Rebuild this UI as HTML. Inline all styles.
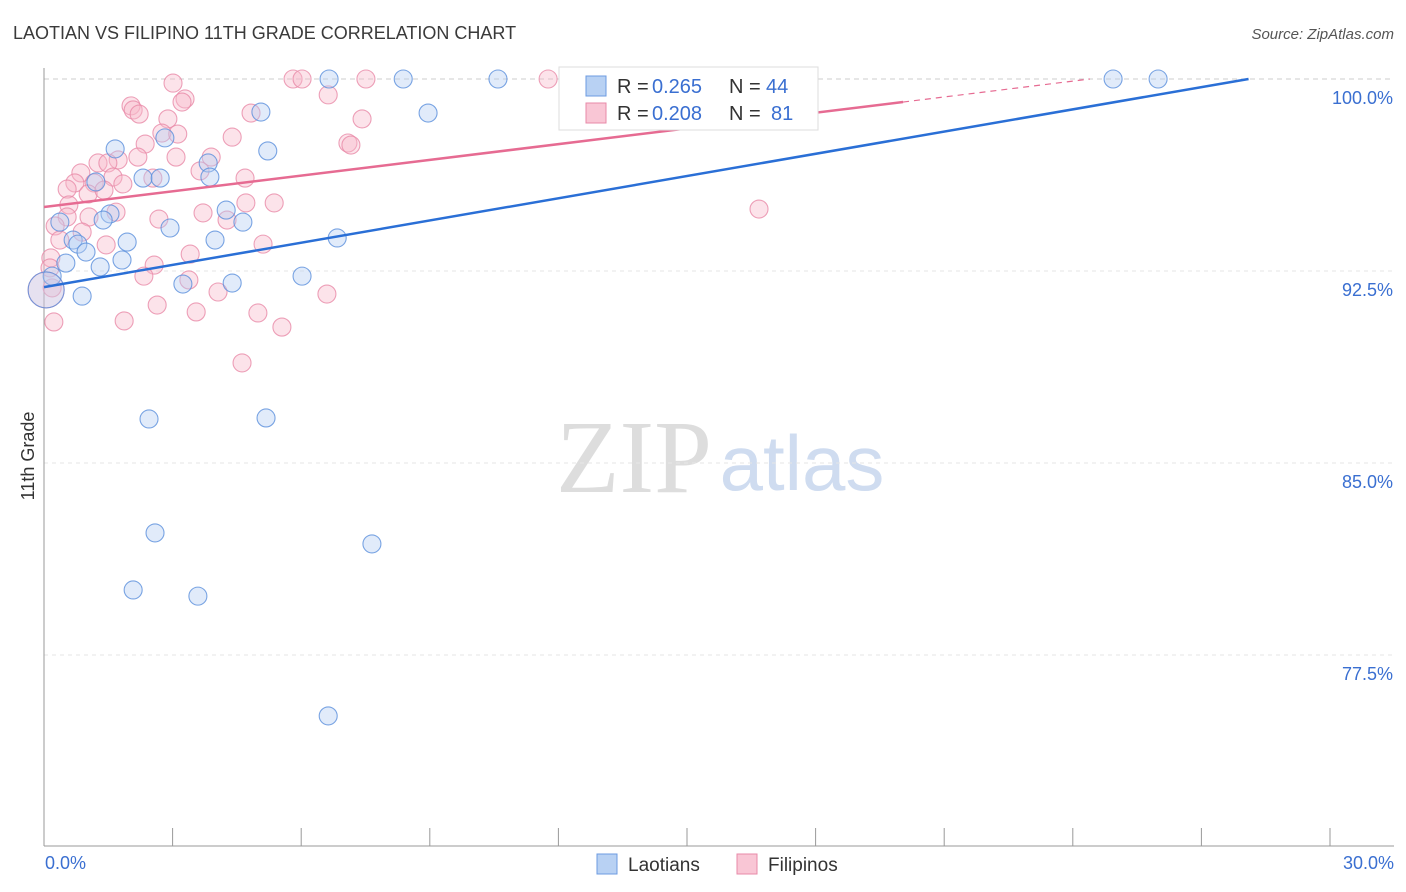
<!DOCTYPE html>
<html><head><meta charset="utf-8"><style>
body{margin:0;background:#fff;font-family:"Liberation Sans",sans-serif;}
svg{display:block}
</style></head><body>
<svg id="chart" width="1406" height="892">
<text x="13" y="39" font-size="18" fill="#3a3a3a">LAOTIAN VS FILIPINO 11TH GRADE CORRELATION CHART</text>
<text x="1394" y="39" font-size="15" fill="#555" font-style="italic" text-anchor="end">Source: ZipAtlas.com</text>
<g><text x="634" y="492" font-size="104" fill="#ddd" font-family="Liberation Serif,serif" text-anchor="middle">ZIP</text><text x="802" y="490" font-size="78" fill="#cfdcf0" text-anchor="middle">atlas</text></g>
<g id="grid"></g><g id="axes"></g><g id="pts"></g><g id="lines"></g>
<text transform="translate(34,456) rotate(-90)" font-size="18" fill="#333" text-anchor="middle">11th Grade</text>
<text x="45" y="869" font-size="18" fill="#3a6fd1">0.0%</text>
<text x="1394" y="869" font-size="18" fill="#3a6fd1" text-anchor="end">30.0%</text>
<g>
<rect x="559" y="67" width="259" height="63" fill="#fff" stroke="#ddd"/>
<rect x="586" y="76" width="20" height="20" fill="#b8d1f3" stroke="#6d9be0"/>
<text x="617" y="93" font-size="20" fill="#333">R = </text><text x="652" y="93" font-size="20" fill="#3a6fd1">0.265</text>
<text x="729" y="93" font-size="20" fill="#333">N = </text><text x="766" y="93" font-size="20" fill="#3a6fd1">44</text>
<rect x="586" y="103" width="20" height="20" fill="#f9c6d5" stroke="#e88aa8"/>
<text x="617" y="120" font-size="20" fill="#333">R = </text><text x="652" y="120" font-size="20" fill="#3a6fd1">0.208</text>
<text x="729" y="120" font-size="20" fill="#333">N = </text><text x="771" y="120" font-size="20" fill="#3a6fd1">81</text>
</g>
<g>
<rect x="597" y="854" width="20" height="20" fill="#b8d1f3" stroke="#6d9be0"/>
<text x="628" y="871" font-size="19" fill="#333">Laotians</text>
<rect x="737" y="854" width="20" height="20" fill="#f9c6d5" stroke="#e88aa8"/>
<text x="768" y="871" font-size="19" fill="#333">Filipinos</text>
</g>
</svg>
<script>
const yTicks=[100,92.5,85,77.5];
const yTickLabels=["100.0%","92.5%","85.0%","77.5%"];
const blueX=[6.65,8.38,10.59,24.94,25.99,5.06,8.96,1.66,2.82,5.22,3.83,3.87,2.31,2.71,1.21,0.37,1.54,1.38,4.25,4.64,2.94,0.68,0.79,0.98,1.94,6.84,3.99,0.51,1.31,1.82,0.19,6.02,3.24,4.39,0.89,0.05,2.45,5.18,2.59,7.65,2.08,3.59,6.63];
const blueY=[100,100,100,100,100,98.71,98.67,97.27,97.70,97.19,96.72,96.17,96.13,96.13,95.98,94.41,94.73,94.49,94.88,94.41,94.18,93.71,93.55,93.24,93.63,93.79,93.71,92.81,92.66,92.93,92.30,92.30,91.99,92.03,91.52,91.76,86.72,86.76,82.27,81.84,80.04,79.80,75.12];
const pinkX=[3.01,5.81,6.02,7.51,11.76,6.63,3.29,3.22,2.03,2.08,2.22,4.83,7.42,2.89,2.75,3.12,4.39,2.36,7.09,7.16,3.08,3.90,2.19,1.73,1.26,1.49,0.86,3.64,1.61,4.69,2.54,0.72,1.17,1.84,0.54,1.03,1.40,0.58,5.37,16.68,1.68,3.71,4.71,1.05,0.54,0.26,2.68,4.27,0.89,0.37,1.45,5.11,3.41,2.57,0.16,0.14,2.33,3.38,0.19,4.06,6.60,2.64,3.55,4.99,1.87,5.55,0.23,4.62,0.05];
const pinkY=[99.84,100,100,100,100,99.38,99.22,99.10,98.95,98.79,98.63,98.67,98.44,98.44,97.89,97.85,97.73,97.46,97.50,97.42,96.95,96.95,96.95,96.84,96.72,96.72,96.33,96.41,96.17,96.13,96.13,95.94,95.94,95.90,95.70,95.51,95.66,95.08,95.16,94.92,94.80,94.77,95.16,94.61,94.61,94.26,94.53,94.49,94.02,93.71,93.52,93.55,93.16,92.73,93.01,92.62,92.30,92.15,91.84,91.68,91.60,91.17,90.90,90.86,90.55,90.31,90.51,88.91,91.76];
const blueTrend=[91.87,100,28.1];
const pinkTrend=[95.0,99.10,20.04,24.4];
const NS="http://www.w3.org/2000/svg";
const X=v=>44+v/30*1286, Y=v=>79+(100-v)/7.5*192;
function mk(t,a,p){const e=document.createElementNS(NS,t);for(const k in a)e.setAttribute(k,a[k]);p.appendChild(e);return e;}
const grid=document.getElementById('grid'),axes=document.getElementById('axes'),pts=document.getElementById('pts'),lines=document.getElementById('lines');
yTicks.forEach((t,i)=>{
 const l=mk('line',{x1:44,x2:1394,y1:Y(t),y2:Y(t),stroke:i==0?'#ccc':'#e6e6e6','stroke-dasharray':i==0?'5,4':'4,4'},grid);
 
 
 const tx=mk('text',{x:1393,y:Y(t)+25,'font-size':18,fill:'#3a6fd1','text-anchor':'end'},grid);
 tx.textContent=yTickLabels[i];
 
 
});
mk('line',{x1:44,x2:44,y1:68,y2:846,stroke:'#999'},axes);
mk('line',{x1:44,x2:1394,y1:846,y2:846,stroke:'#999'},axes);
for(let i=1;i<=10;i++){const xx=44+i*128.6;const t=mk('line',{x1:xx,x2:xx,y1:828,y2:846,stroke:'#999'},axes);
 
 }
function dots(xs,ys,fill,stroke,name){xs.forEach((x,i)=>{const big=x<0.1;
 const c=mk('circle',{cx:X(x),cy:Y(ys[i]),r:big?18:9,fill:fill,'fill-opacity':big?0.3:0.4,stroke:stroke,'stroke-opacity':0.8,'stroke-width':1.1},pts);
 
 });}
dots(pinkX,pinkY,'#f7b8cb','#e98aa8','filipino-point');
dots(blueX,blueY,'#b3cdf2','#5a8fdc','laotian-point');
const bl=mk('line',{x1:X(0),y1:Y(blueTrend[0]),x2:X(blueTrend[2]),y2:Y(blueTrend[1]),stroke:'#2a6fd6','stroke-width':2.5},lines);


const pl=mk('line',{x1:X(0),y1:Y(pinkTrend[0]),x2:X(pinkTrend[2]),y2:Y(pinkTrend[1]),stroke:'#e66b92','stroke-width':2.5},lines);


const pd=mk('line',{x1:X(pinkTrend[2]),y1:Y(pinkTrend[1]),x2:X(pinkTrend[3]),y2:Y(100),stroke:'#e66b92','stroke-width':1.2,'stroke-dasharray':'6,5'},lines);


</script>
</body></html>
